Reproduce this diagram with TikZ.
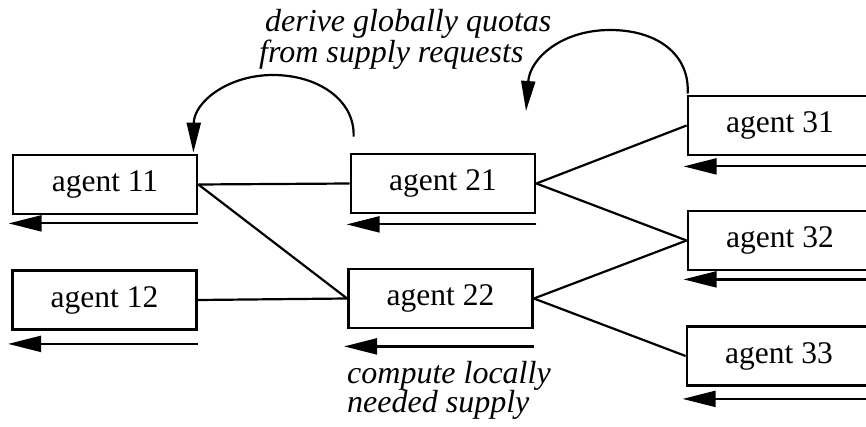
\documentclass[tikz,border=0pt]{standalone}
\usepackage{fontspec}
\setmainfont{Liberation Serif}
\usetikzlibrary{arrows.meta,calc}

\tikzset{
  agentbox/.style={draw, line width=2.8pt, minimum width=184pt, minimum height=59pt,
    inner sep=0pt, font=\fontsize{31.5}{30}\selectfont},
  link/.style={line width=2.2pt},
  feedback/.style={line width=2.2pt, -{Triangle[length=33pt,width=16pt]}},
  loop/.style={line width=2.2pt, -{Triangle[length=30pt,width=14pt]}},
  note/.style={inner sep=0pt, anchor=base west, font=\fontsize{32}{30}\selectfont\itshape}
}

\begin{document}
\begin{tikzpicture}[x=1pt, y=-1pt]
  \useasboundingbox (0,0) rectangle (866,427);
  \clip (0,0) rectangle (866,427);

  % agents
  \node[agentbox] (a11) at (105,184.5) {agent 11};
  \node[agentbox] (a12) at (104.5,300) {agent 12};
  \node[agentbox] (a21) at (443,183.5) {agent 21};
  \node[agentbox] (a22) at (440.5,298.5) {agent 22};
  \node[agentbox] (a31) at (780,125.5) {agent 31};
  \node[agentbox] (a32) at (780,240.5) {agent 32};
  \node[agentbox] (a33) at (779,356) {agent 33};

  % hierarchy links
  \draw[link] (a11.east) -- (a21.west);
  \draw[link] (a11.east) -- (a22.west);
  \draw[link] (a12.east) -- (a22.west);
  \draw[link] (a21.east) -- (a31.west);
  \draw[link] (a21.east) -- (a32.west);
  \draw[link] (a22.east) -- (a32.west);
  \draw[link] (a22.east) -- (a33.west);

  % local supply computation under each agent
  \foreach \n/\d in {a11/8, a12/13, a21/10, a22/17, a31/10, a32/8, a33/12} {
    \draw[feedback] ($(\n.south east)+(0,\d)$) -- ($(\n.south west)+(-3,\d)$);
  }

  % quota derivation loops
  \coordinate (l1s) at ($(a21.north west)+(4,-16)$);
  \coordinate (l1e) at ($(a11.north east)+(-5,-1)$);
  \draw[loop] (l1s) .. controls (355,100) and (318,75) .. (273,75)
                    .. controls (228,75) and (194,102) .. (l1e);
  \coordinate (l2s) at ($(a31.north west)+(1,-1)$);
  \coordinate (l2e) at (526,111);
  \draw[loop] (l2s) .. controls (690,55) and (658,30) .. (610,30)
                    .. controls (562,30) and (530,58) .. (l2e);

  % annotations
  \node[note] (t1) at (265,32) {derive globally quotas};
  \node[note] (t2) at (259,63) {from supply requests};
  \node[note] (t3) at (347,383) {compute locally};
  \node[note] (t4) at (347,412) {needed supply};
\end{tikzpicture}
\end{document}
